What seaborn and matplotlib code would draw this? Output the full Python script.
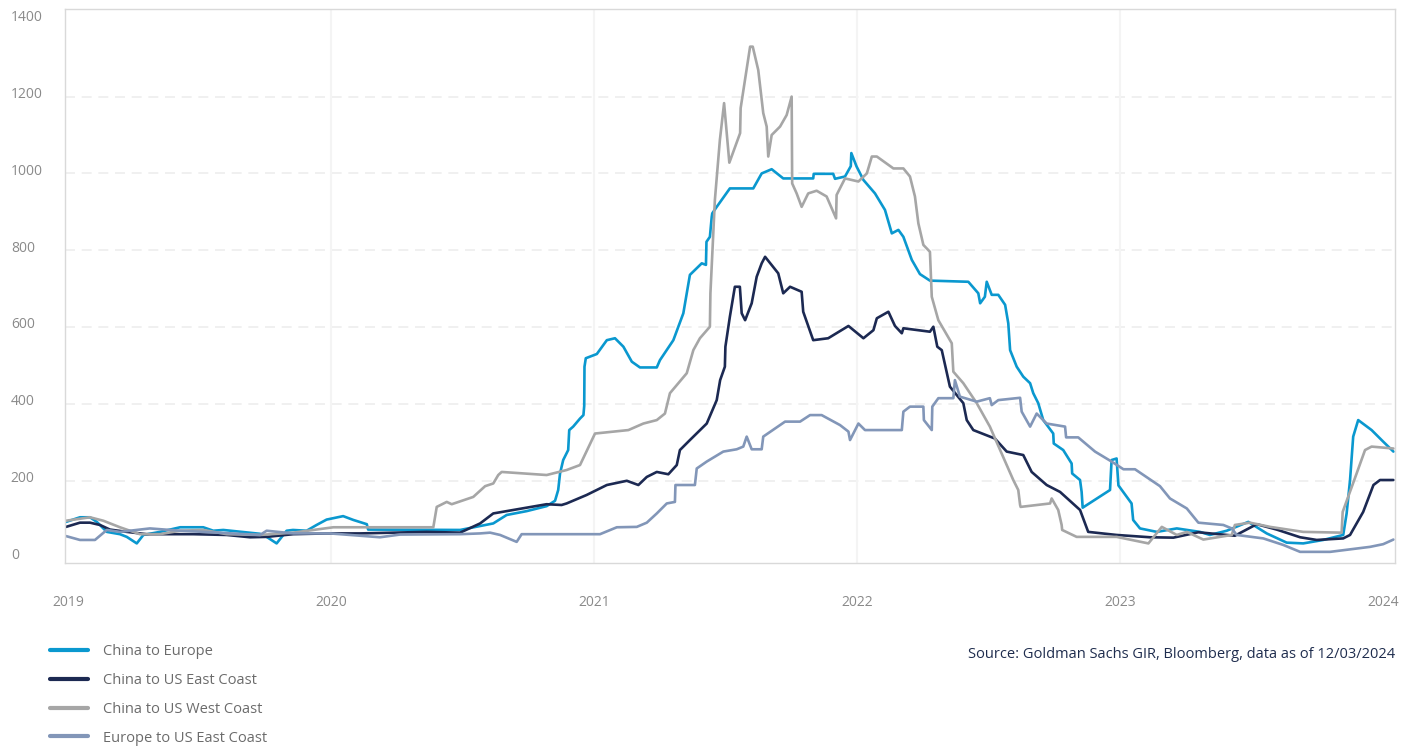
import numpy as np
import pandas as pd
import matplotlib
matplotlib.use("Agg")
import matplotlib.pyplot as plt
import matplotlib.transforms as mtransforms
import seaborn as sns

# Container freight rates by route (decimal year, rate)
china_europe_t = [2018.991, 2019.044, 2019.082, 2019.108, 2019.146, 2019.196, 2019.222, 2019.260, 2019.285,
                  2019.348, 2019.425, 2019.513, 2019.551, 2019.589, 2019.729, 2019.754, 2019.792, 2019.830,
                  2019.854, 2019.906, 2019.944, 2019.982, 2020.045, 2020.084, 2020.135, 2020.140, 2020.490,
                  2020.616, 2020.667, 2020.743, 2020.819, 2020.851, 2020.863, 2020.870, 2020.882, 2020.901,
                  2020.905, 2020.920, 2020.946, 2020.959, 2020.962, 2020.963, 2020.968, 2021.010, 2021.048,
                  2021.079, 2021.111, 2021.143, 2021.174, 2021.238, 2021.250, 2021.301, 2021.339, 2021.364,
                  2021.409, 2021.425, 2021.427, 2021.440, 2021.447, 2021.449, 2021.466, 2021.516, 2021.605,
                  2021.637, 2021.675, 2021.719, 2021.833, 2021.835, 2021.909, 2021.916, 2021.954, 2021.976,
                  2021.978, 2021.998, 2022.024, 2022.068, 2022.106, 2022.132, 2022.157, 2022.176, 2022.208,
                  2022.239, 2022.277, 2022.423, 2022.461, 2022.468, 2022.486, 2022.493, 2022.512, 2022.537,
                  2022.563, 2022.575, 2022.582, 2022.607, 2022.632, 2022.658, 2022.670, 2022.689, 2022.708,
                  2022.746, 2022.748, 2022.784, 2022.816, 2022.818, 2022.848, 2022.854, 2022.858, 2022.962,
                  2022.968, 2022.987, 2022.994, 2023.044, 2023.050, 2023.076, 2023.140, 2023.216, 2023.304,
                  2023.342, 2023.406, 2023.488, 2023.558, 2023.634, 2023.697, 2023.773, 2023.849, 2023.862,
                  2023.875, 2023.887, 2023.906, 2023.957, 2024.001, 2024.040]
china_europe_v = [93, 105, 105, 93, 67, 61, 54, 37, 59,
                  67, 79, 79, 70, 72, 62, 54, 37, 70,
                  72, 70, 85, 99, 108, 98, 87, 73, 72,
                  89, 111, 121, 134, 148, 176, 219, 254, 280,
                  332, 341, 362, 371, 395, 497, 519, 530, 566,
                  571, 549, 510, 495, 495, 514, 566, 636, 736,
                  766, 762, 822, 835, 887, 896, 913, 961, 961,
                  1000, 1011, 987, 987, 999, 999, 986, 992, 1019,
                  1053, 1018, 983, 948, 905, 844, 853, 835, 775,
                  738, 721, 718, 688, 662, 679, 718, 684, 684,
                  658, 610, 540, 497, 471, 454, 428, 402, 358,
                  323, 297, 280, 245, 219, 202, 171, 130, 176,
                  254, 258, 188, 141, 98, 76, 67, 76, 67,
                  59, 70, 93, 63, 39, 37, 46, 59, 115,
                  202, 315, 358, 332, 302, 276]

china_us_east_t = [2018.991, 2019.044, 2019.082, 2019.120, 2019.158, 2019.222, 2019.298, 2019.475, 2019.602,
                   2019.691, 2019.754, 2019.855, 2019.982, 2020.109, 2020.236, 2020.363, 2020.490, 2020.566,
                   2020.616, 2020.692, 2020.819, 2020.876, 2020.895, 2020.971, 2021.048, 2021.124, 2021.168,
                   2021.200, 2021.238, 2021.282, 2021.314, 2021.326, 2021.364, 2021.428, 2021.466, 2021.479,
                   2021.497, 2021.499, 2021.516, 2021.535, 2021.554, 2021.561, 2021.574, 2021.599, 2021.618,
                   2021.637, 2021.650, 2021.700, 2021.719, 2021.745, 2021.789, 2021.795, 2021.833, 2021.890,
                   2021.967, 2022.024, 2022.062, 2022.075, 2022.119, 2022.144, 2022.170, 2022.176, 2022.277,
                   2022.290, 2022.305, 2022.322, 2022.353, 2022.404, 2022.417, 2022.442, 2022.524, 2022.569,
                   2022.632, 2022.664, 2022.721, 2022.772, 2022.848, 2022.879, 2022.987, 2023.114, 2023.203,
                   2023.298, 2023.437, 2023.520, 2023.596, 2023.685, 2023.748, 2023.849, 2023.875, 2023.925,
                   2023.964, 2023.989, 2024.040]
china_us_east_v = [80, 91, 91, 85, 73, 67, 61, 61, 59,
                   53, 54, 61, 63, 63, 65, 67, 65, 89,
                   115, 124, 139, 137, 141, 163, 189, 200, 189,
                   210, 223, 217, 241, 280, 306, 349, 410, 462,
                   497, 549, 627, 705, 705, 636, 618, 662, 731,
                   766, 783, 740, 688, 705, 692, 640, 566, 571,
                   603, 571, 592, 623, 640, 603, 584, 597, 588,
                   601, 549, 540, 445, 402, 358, 332, 310, 276,
                   267, 223, 189, 171, 124, 67, 59, 53, 52,
                   66, 57, 87, 73, 53, 46, 50, 59, 119,
                   189, 202, 202]

china_us_west_t = [2018.991, 2019.082, 2019.133, 2019.196, 2019.272, 2019.348, 2019.425, 2019.513, 2019.602,
                   2019.729, 2019.855, 2020.008, 2020.363, 2020.388, 2020.401, 2020.439, 2020.458, 2020.540,
                   2020.585, 2020.616, 2020.635, 2020.648, 2020.819, 2020.895, 2020.946, 2021.003, 2021.130,
                   2021.187, 2021.238, 2021.269, 2021.288, 2021.352, 2021.377, 2021.402, 2021.440, 2021.442,
                   2021.459, 2021.478, 2021.494, 2021.514, 2021.555, 2021.557, 2021.593, 2021.603, 2021.624,
                   2021.643, 2021.656, 2021.662, 2021.675, 2021.707, 2021.732, 2021.751, 2021.753, 2021.770,
                   2021.789, 2021.814, 2021.846, 2021.884, 2021.920, 2021.922, 2021.948, 2021.954, 2022.005,
                   2022.037, 2022.056, 2022.075, 2022.138, 2022.176, 2022.201, 2022.220, 2022.233, 2022.252,
                   2022.277, 2022.284, 2022.309, 2022.360, 2022.366, 2022.404, 2022.455, 2022.505, 2022.544,
                   2022.594, 2022.613, 2022.620, 2022.622, 2022.734, 2022.740, 2022.765, 2022.778, 2022.780,
                   2022.835, 2022.987, 2023.108, 2023.159, 2023.216, 2023.254, 2023.317, 2023.425, 2023.437,
                   2023.494, 2023.571, 2023.697, 2023.843, 2023.847, 2023.900, 2023.932, 2023.957, 2024.040]
china_us_west_v = [96, 105, 96, 79, 61, 61, 70, 72, 61,
                   59, 65, 79, 79, 79, 132, 145, 139, 158,
                   186, 193, 215, 223, 215, 228, 241, 323, 332,
                   349, 358, 375, 428, 480, 540, 571, 601, 688,
                   931, 1087, 1183, 1028, 1105, 1170, 1330, 1330, 1269,
                   1157, 1122, 1044, 1100, 1122, 1152, 1200, 974, 948,
                   913, 948, 955, 940, 883, 944, 979, 987, 979,
                   1000, 1044, 1044, 1013, 1013, 992, 940, 870, 814,
                   796, 679, 618, 558, 484, 454, 402, 341, 280,
                   202, 176, 137, 132, 141, 154, 124, 85, 72,
                   54, 54, 37, 80, 59, 67, 47, 59, 85,
                   91, 80, 67, 65, 119, 219, 280, 289, 284]

europe_us_east_t = [2018.991, 2019.044, 2019.101, 2019.146, 2019.196, 2019.310, 2019.425, 2019.513, 2019.729,
                    2019.754, 2019.855, 2019.995, 2020.185, 2020.261, 2020.490, 2020.566, 2020.604, 2020.642,
                    2020.705, 2020.724, 2020.920, 2021.022, 2021.086, 2021.162, 2021.200, 2021.238, 2021.276,
                    2021.307, 2021.309, 2021.383, 2021.390, 2021.428, 2021.491, 2021.542, 2021.567, 2021.580,
                    2021.599, 2021.637, 2021.643, 2021.726, 2021.783, 2021.821, 2021.865, 2021.935, 2021.967,
                    2021.973, 2022.005, 2022.030, 2022.170, 2022.176, 2022.201, 2022.252, 2022.254, 2022.284,
                    2022.286, 2022.309, 2022.366, 2022.372, 2022.391, 2022.455, 2022.505, 2022.512, 2022.537,
                    2022.620, 2022.626, 2022.658, 2022.683, 2022.721, 2022.791, 2022.795, 2022.841, 2022.905,
                    2022.968, 2023.013, 2023.057, 2023.152, 2023.190, 2023.254, 2023.298, 2023.393, 2023.425,
                    2023.444, 2023.545, 2023.621, 2023.685, 2023.799, 2023.951, 2024.001, 2024.040]
europe_us_east_v = [56, 46, 46, 72, 67, 76, 70, 67, 59,
                    70, 63, 63, 53, 60, 61, 63, 65, 59,
                    41, 61, 61, 61, 79, 80, 91, 115, 141,
                    145, 189, 189, 232, 250, 276, 282, 289, 315,
                    282, 282, 315, 354, 354, 371, 371, 345, 328,
                    306, 349, 332, 332, 380, 393, 393, 358, 332,
                    393, 415, 415, 462, 419, 406, 415, 397, 410,
                    416, 380, 341, 375, 349, 341, 313, 313, 276,
                    250, 230, 230, 186, 154, 128, 91, 85, 76,
                    59, 50, 33, 15, 15, 28, 35, 47]

routes = ["China to Europe", "China to US East Coast", "China to US West Coast", "Europe to US East Coast"]
route_colors = ["#0a98cf", "#1c2952", "#a6a6a6", "#8296b8"]
year_ticks = [2019, 2020, 2021, 2022, 2023, 2024]
rate_ticks = [0, 200, 400, 600, 800, 1000, 1200, 1400]
source_note = "Source: Goldman Sachs GIR, Bloomberg, data as of 12/03/2024"

series = [(china_europe_t, china_europe_v), (china_us_east_t, china_us_east_v),
          (china_us_west_t, china_us_west_v), (europe_us_east_t, europe_us_east_v)]
df = pd.concat(
    [pd.DataFrame({"year": t, "rate": v, "route": name}) for name, (t, v) in zip(routes, series)],
    ignore_index=True,
)

sns.set_theme(style="white")
plt.rcParams["font.family"] = ["Open Sans", "DejaVu Sans"]

fig = plt.figure(figsize=(14.08, 7.47), dpi=100)
ax = fig.add_axes([65 / 1408, 1 - 563 / 747, (1395 - 65) / 1408, (563 - 9) / 747])

# light reference grid
for yv in rate_ticks[1:-1]:
    ax.axhline(yv, color="#eeeeee", lw=1.2, dashes=(6, 4), zorder=0)
for xv in year_ticks[1:-1]:
    ax.axvline(xv, color="#f4f4f4", lw=1.5, zorder=0)

sns.lineplot(data=df, x="year", y="rate", hue="route", hue_order=routes,
             palette=dict(zip(routes, route_colors)), estimator=None, sort=True,
             linewidth=1.9, ax=ax)

ax.set_xlim(2018.987, 2024.046)
ax.set_ylim(-14, 1428)
ax.set_xticks(year_ticks)
ax.set_yticks(rate_ticks)
ax.set_xlabel("")
ax.set_ylabel("")

for sp in ax.spines.values():
    sp.set_color("#d9d9d9")
    sp.set_linewidth(1.0)

ax.tick_params(axis="both", length=0, labelsize=10, colors="#8a8a8a")
ax.tick_params(axis="x", pad=23)
ax.tick_params(axis="y", pad=39)
shift_up = mtransforms.ScaledTranslation(0, 3 / 72, fig.dpi_scale_trans)
for lab in ax.get_yticklabels():
    lab.set_horizontalalignment("left")
    lab.set_transform(lab.get_transform() + shift_up)

sns.move_legend(ax, loc="upper left", bbox_to_anchor=(50 / 1408, 1 - 644 / 747),
                bbox_transform=fig.transFigure, frameon=False, title=None,
                fontsize=10.5, handlelength=2.6, handletextpad=1.05, labelspacing=0.95,
                borderpad=0, borderaxespad=0)
leg = ax.get_legend()
for txt in leg.get_texts():
    txt.set_color("#6b6b6b")
for h in leg.legend_handles:
    h.set_linewidth(3)

fig.text(1395 / 1408, 1 - 655 / 747, source_note, ha="right", va="center",
         fontsize=10.5, color="#1f2d4e")

fig.savefig("out.png", dpi=100)
